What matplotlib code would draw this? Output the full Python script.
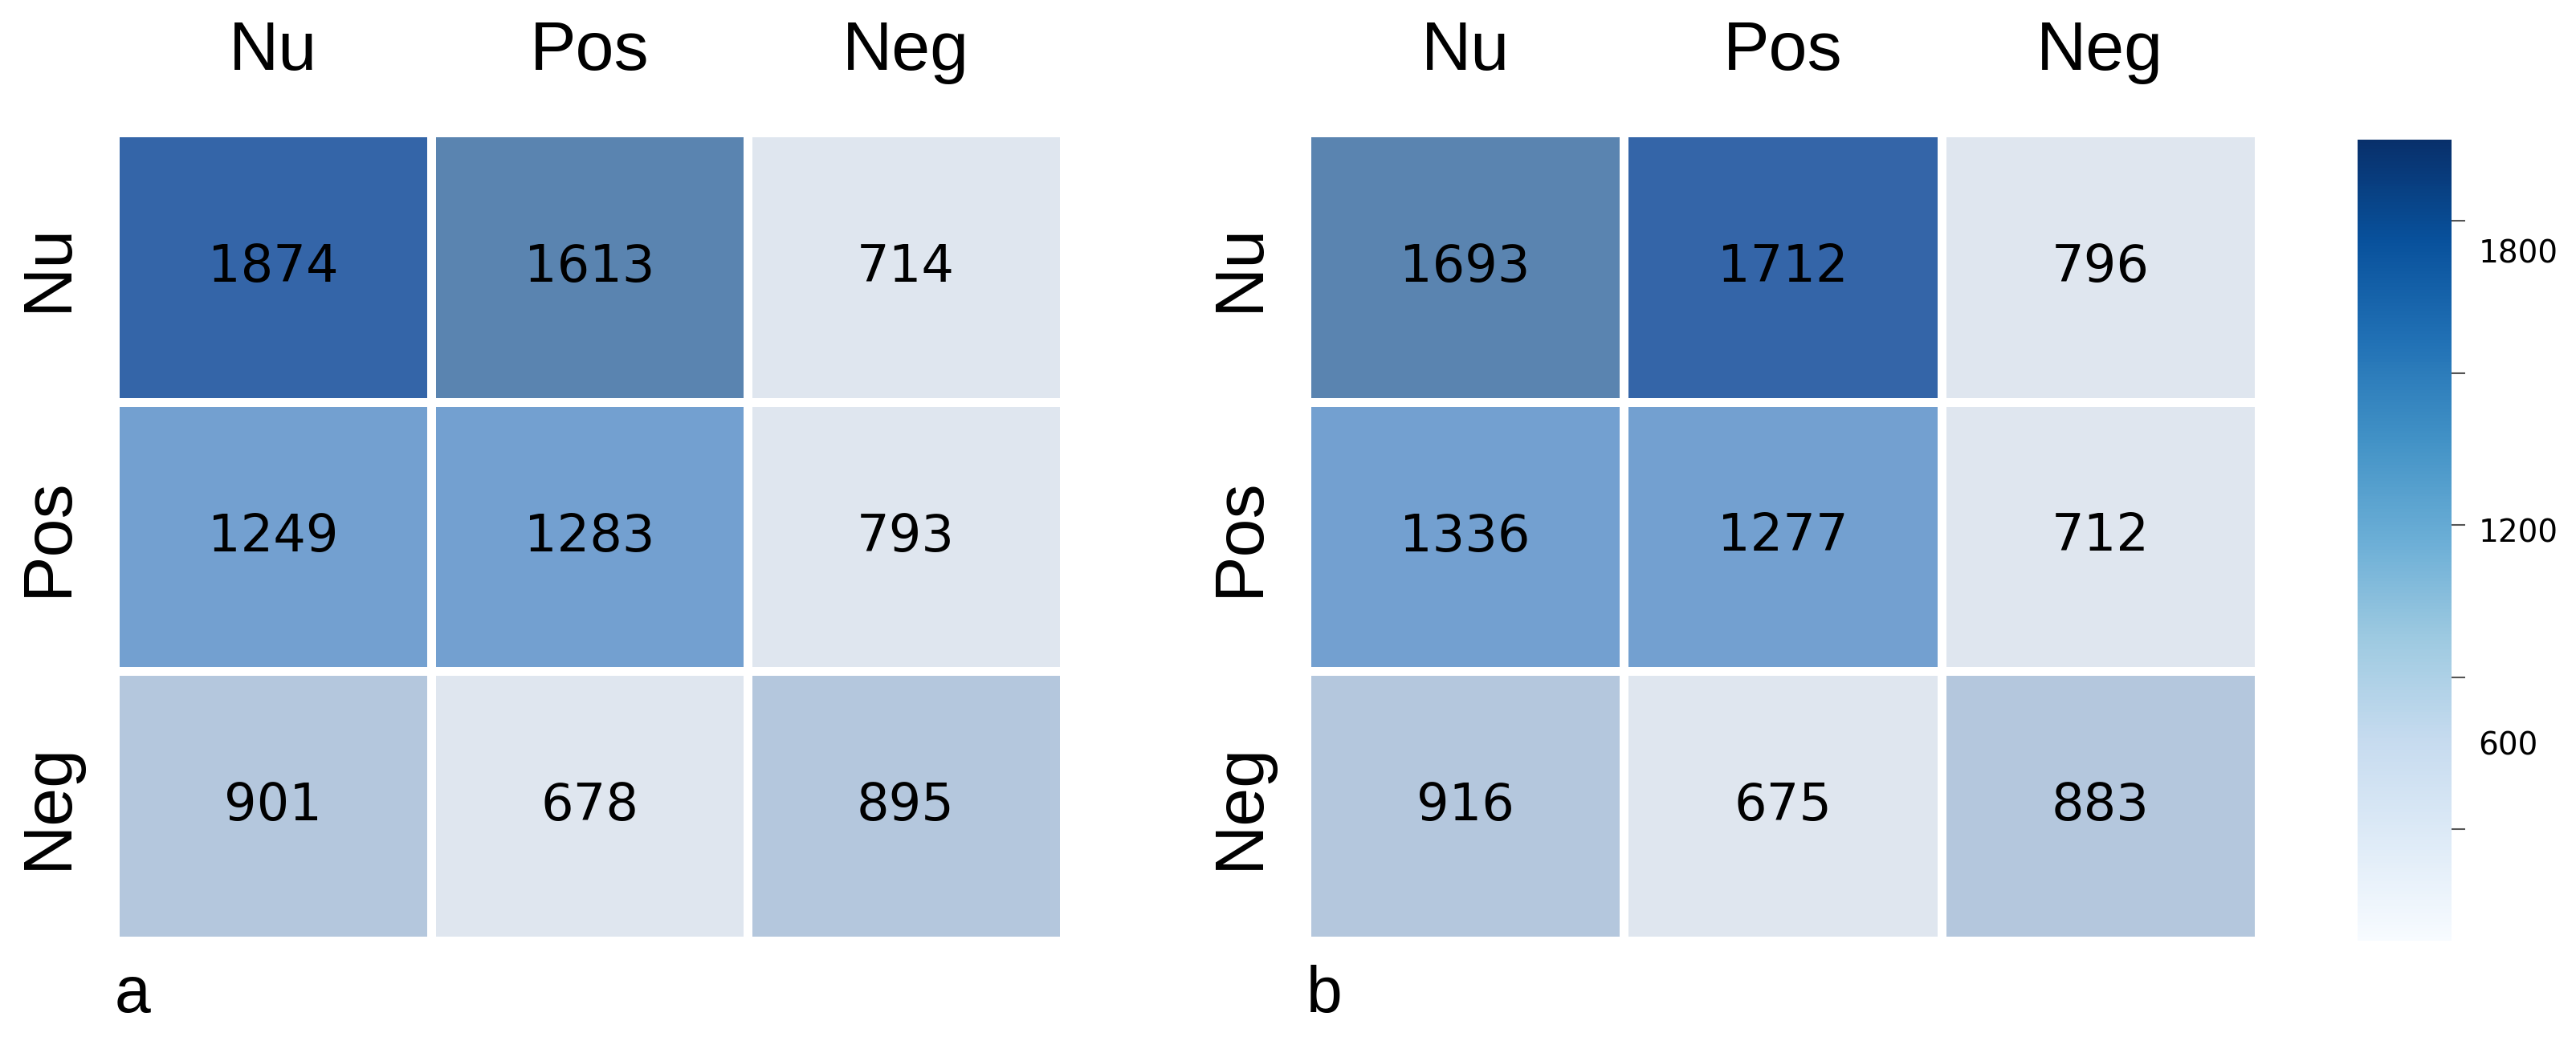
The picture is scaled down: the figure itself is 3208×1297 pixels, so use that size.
import numpy as np
import matplotlib.pyplot as plt
from matplotlib.colors import ListedColormap, BoundaryNorm, Normalize
from matplotlib.cm import ScalarMappable

# data
classes = ['Nu', 'Pos', 'Neg']
matrix_a = [[1874, 1613, 714],
            [1249, 1283, 793],
            [901, 678, 895]]
matrix_b = [[1693, 1712, 796],
            [1336, 1277, 712],
            [916, 675, 883]]
panel_labels = ['a', 'b']
cbar_ticks = [600, 900, 1200, 1500, 1800]
# the labels in the picture sit a little off their tick marks
cbar_label_pos = [770, 1190, 1740]
cbar_labels = ['600', '1200', '1800']

# binned cell colours
cell_colors = ['#DFE6EF', '#B4C7DD', '#73A0D0', '#5A84B0', '#3465A8']
bounds = [0, 850, 1100, 1500, 1700, 2500]
cell_cmap = ListedColormap(cell_colors)
cell_norm = BoundaryNorm(bounds, cell_cmap.N)

W, H = 3208, 1297
fig = plt.figure(figsize=(W / 100, H / 100), dpi=100)

label_font = 'Liberation Sans'

def draw(ax, mat, tag):
    mat = np.array(mat)
    ax.pcolormesh(mat, cmap=cell_cmap, norm=cell_norm,
                  edgecolors='white', linewidth=6.5)
    ax.set_xlim(0, 3)
    ax.set_ylim(3, 0)
    for i in range(3):
        for j in range(3):
            ax.text(j + 0.5, i + 0.5, str(mat[i, j]), ha='center', va='center',
                    fontsize=46, family='DejaVu Sans', color='black')
    ax.xaxis.tick_top()
    ax.set_xticks(np.arange(3) + 0.5)
    ax.set_xticklabels(classes, fontsize=62, family=label_font)
    ax.set_yticks(np.arange(3) + 0.5)
    ax.set_yticklabels(classes, fontsize=62, family=label_font,
                       rotation=90, va='center')
    ax.tick_params(axis='x', length=0, pad=43)
    ax.tick_params(axis='y', length=0, pad=30)
    for s in ax.spines.values():
        s.set_visible(False)
    ax.text(0.0, -0.03, tag, transform=ax.transAxes, ha='left', va='top',
            fontsize=58, family='Liberation Sans')

ax1 = fig.add_axes([143 / W, 1 - 1172 / H, 1182 / W, 1007 / H])
ax2 = fig.add_axes([1627 / W, 1 - 1172 / H, 1186 / W, 1007 / H])
draw(ax1, matrix_a, panel_labels[0])
draw(ax2, matrix_b, panel_labels[1])

cax = fig.add_axes([2936 / W, 1 - 1172 / H, 117 / W, 998 / H])
sm = ScalarMappable(norm=Normalize(380, 1960), cmap='Blues')
cb = fig.colorbar(sm, cax=cax)
cb.outline.set_visible(False)
cax.set_yticks(cbar_label_pos)
cax.set_yticklabels(cbar_labels, fontsize=28, family='DejaVu Sans')
cax.set_yticks(cbar_ticks, minor=True)
cax.tick_params(which='major', length=0, pad=24)
cax.tick_params(which='minor', length=12, width=1.5, color='#555555')

fig.savefig('out.png', dpi=100)
